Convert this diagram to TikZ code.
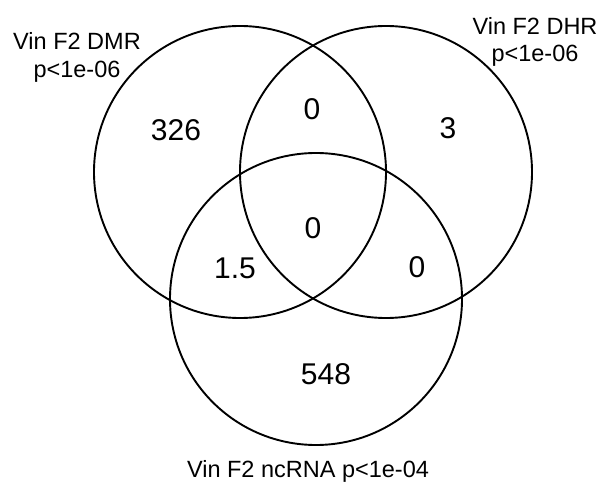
\documentclass[tikz,border=0pt]{standalone}
\usepackage{fontspec}
\setmainfont{Liberation Sans}
\begin{document}
\begin{tikzpicture}[x=1pt,y=-1pt,
  setcircle/.style={circle, draw=black, line width=1.9pt, minimum size=292pt, inner sep=0pt},
  setlabel/.style={font=\fontsize{23.5}{27}\selectfont, align=center, inner sep=0pt},
  count/.style={font=\fontsize{30}{33}\selectfont, inner sep=0pt}]
\useasboundingbox[fill=white] (0,0) rectangle (603,486);
\node[setcircle] (dmr) at (240,172) {};
\node[setcircle] (dhr) at (386,172) {};
\node[setcircle] (nc) at (316,299) {};
\node[setlabel] (ldmr) at (77,57) {Vin F2 DMR\\[1pt]p<1e-06};
\node[setlabel] (ldhr) at (535,42) {Vin F2 DHR\\[0pt]p<1e-06};
\node[setlabel] (lnc) at (308,471) {Vin F2 ncRNA p<1e-04};
\node[count] (a) at (176,130) {326};
\node[count] (ab) at (312,109) {0};
\node[count] (b) at (448,128) {3};
\node[count] (abc) at (313,228) {0};
\node[count] (ac) at (235,268) {1.5};
\node[count] (bc) at (417,267) {0};
\node[count] (c) at (326,374) {548};
\end{tikzpicture}
\end{document}
